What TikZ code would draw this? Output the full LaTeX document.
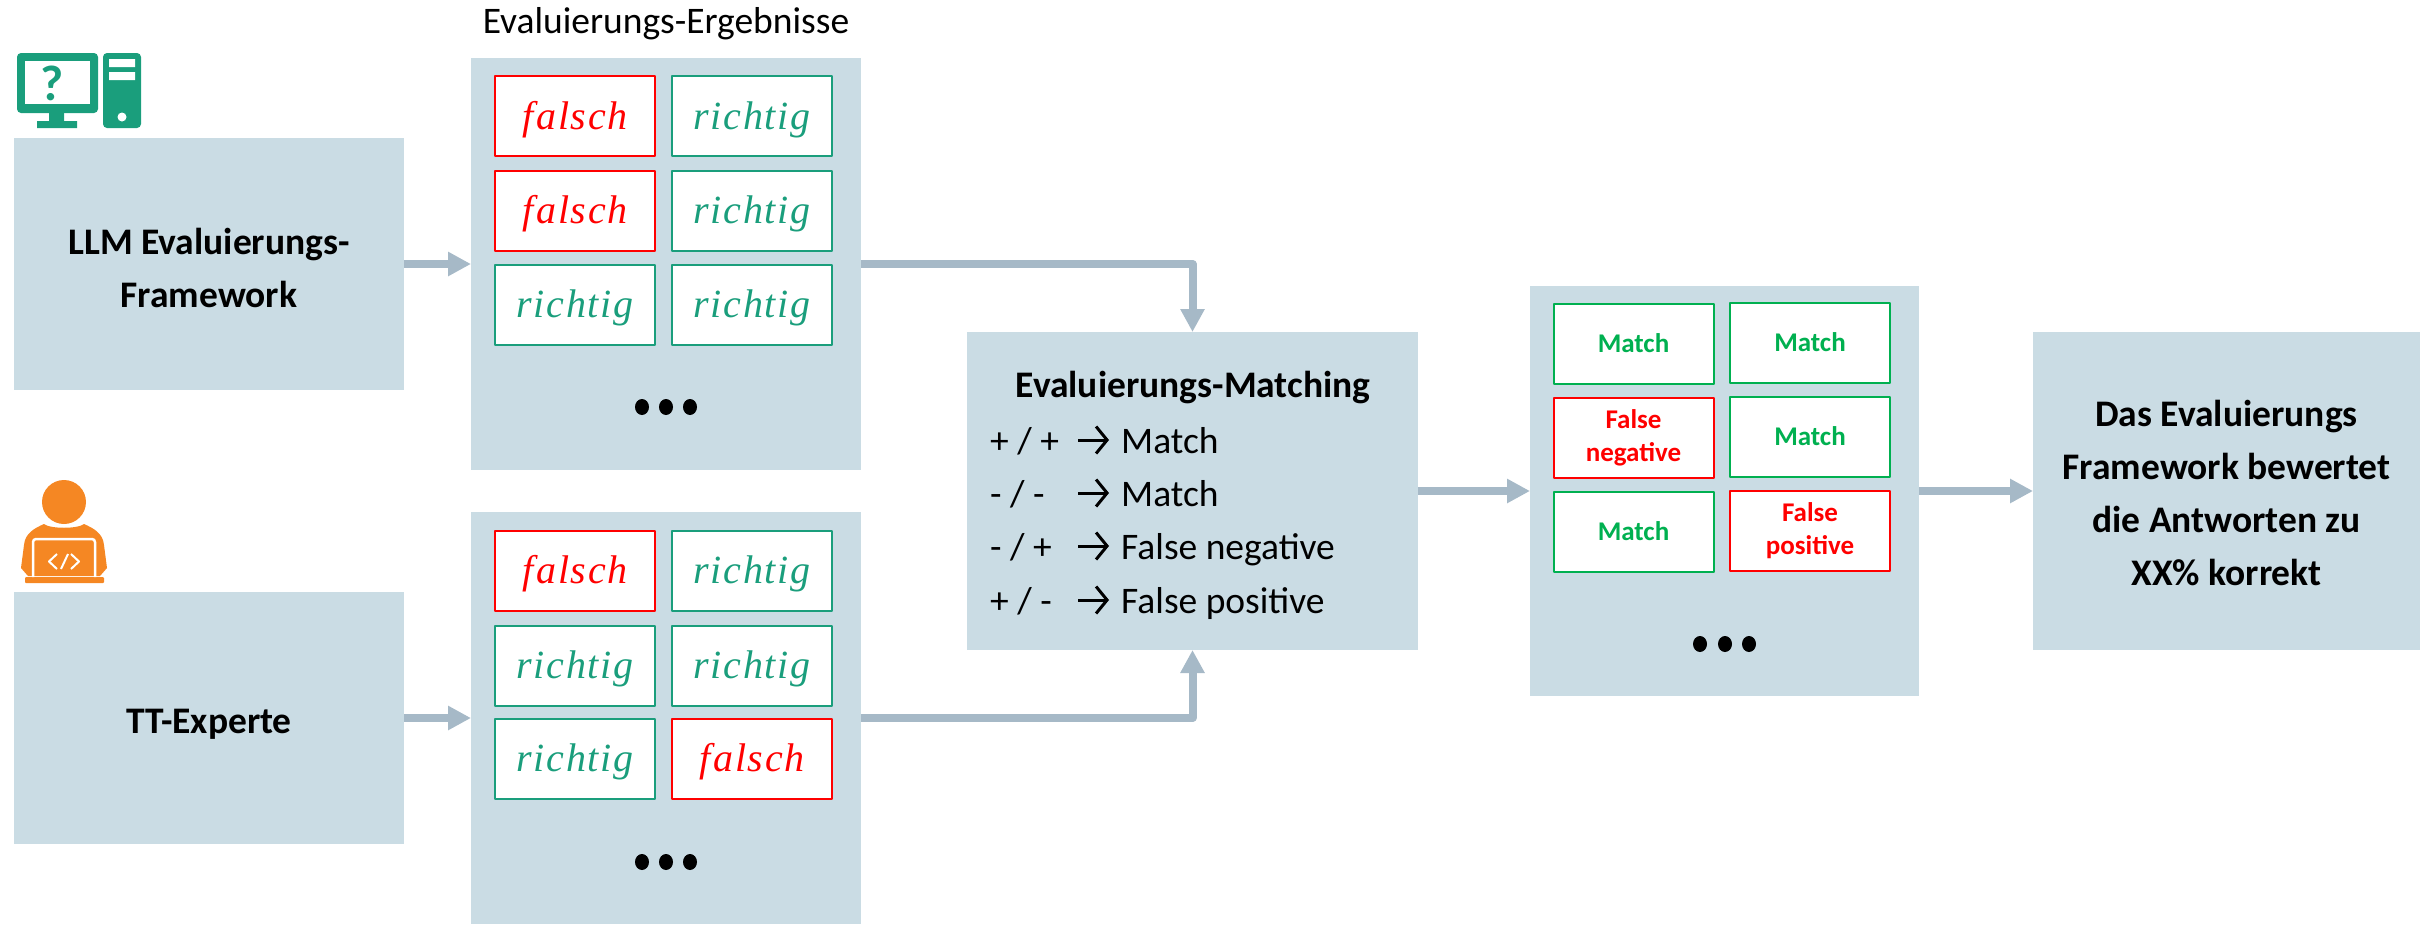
\documentclass[tikz,border=0pt]{standalone}
\usepackage{fontspec}
\setmainfont{Carlito}
\newfontfamily\mathitfont[LetterSpace=4.5]{Liberation Serif}
\usetikzlibrary{arrows.meta}
\definecolor{boxblue}{HTML}{CADCE4}
\definecolor{flowblue}{HTML}{A6B9C7}
\definecolor{teal}{HTML}{1A9E7C}
\definecolor{matchgreen}{HTML}{00B050}
\definecolor{personorange}{HTML}{F58723}
\tikzset{
	panel/.style={fill=boxblue,inner sep=0pt,outer sep=0pt,align=center,font=\fontsize{37.5}{53}\selectfont\bfseries},
	cell/.style={fill=white,draw,line width=2pt,inner sep=0pt,outer sep=0pt,minimum width=160pt,minimum height=80pt,align=center},
	okcell/.style={cell,draw=teal,text=teal,text height=32pt,text depth=6pt,font=\fontsize{40}{44}\selectfont\mathitfont\itshape},
	badcell/.style={cell,draw=red,text=red,text height=32pt,text depth=6pt,font=\fontsize{40}{44}\selectfont\mathitfont\itshape},
	hitcell/.style={cell,draw=matchgreen,text=matchgreen,font=\fontsize{27}{33}\selectfont\bfseries},
	misscell/.style={cell,draw=red,text=red,font=\fontsize{27}{33}\selectfont\bfseries},
	rule text/.style={anchor=base west,inner sep=0pt,font=\fontsize{37.5}{40}\selectfont},
	flow/.style={draw=flowblue,line width=8pt,-{Triangle[length=23pt,width=23pt]}},
	goes/.style={line width=3pt,-{Straight Barb[length=11pt,width=27pt,line width=3pt]}}
}
\begin{document}
\begin{tikzpicture}[x=1pt,y=-1pt,line join=round]
	\useasboundingbox (0,0) rectangle (2420,924);
	% main blocks
	\node[panel,minimum width=390pt,minimum height=252pt] (llm) at (209,264) {};
	\node[panel,minimum width=390pt,minimum height=252pt] (tt) at (209,718) {};
	\node[panel,minimum width=390pt,minimum height=412pt] (erg1) at (666,264) {};
	\node[panel,minimum width=390pt,minimum height=412pt] (erg2) at (666,718) {};
	\node[panel,minimum width=451pt,minimum height=318pt] (match) at (1192.5,491) {};
	\node[panel,minimum width=389pt,minimum height=410pt] (erg3) at (1724.5,491) {};
	\node[panel,minimum width=387pt,minimum height=318pt] (final) at (2226.5,491) {};
	\node[panel,fill=none] (llmtext) at (209,268) {LLM Evaluierungs-\\Framework};
	\node[panel,fill=none] (tttext) at (209,724) {TT-Experte};
	\node[panel,fill=none] (finaltext) at (2226.5,493) {Das Evaluierungs\\Framework bewertet\\die Antworten zu\\XX\% korrekt};
	\node[font=\fontsize{37.5}{40}\selectfont] (title) at (666,24) {Evaluierungs-Ergebnisse};
	% cells
	\foreach \n/\x/\y/\s/\t in {a/575/116/badcell/f\kern3pt alsch,b/752/116/okcell/richtig,
		c/575/210.5/badcell/f\kern3pt alsch,d/752/210.5/okcell/richtig,
		e/575/304.5/okcell/richtig,f/752/304.5/okcell/richtig,
		g/575/570.5/badcell/f\kern3pt alsch,h/752/570.5/okcell/richtig,
		i/575/665.5/okcell/richtig,j/752/665.5/okcell/richtig,
		k/575/758.5/okcell/richtig,l/752/758.5/badcell/f\kern3pt alsch}
		\node[\s] (cell\n) at (\x,\y) {\t};
	\foreach \n/\x/\y/\s/\t in {a/1633.5/343.5/hitcell/Match,b/1810/342.5/hitcell/Match,
		c/1633.5/437.5/misscell/False\\negative,d/1810/436.5/hitcell/Match,
		e/1633.5/531.5/hitcell/Match,f/1810/530.5/misscell/False\\positive}
		\node[\s] (hit\n) at (\x,\y) {\t};
	% dots
	\foreach \x in {642,666,690} {
		\fill (\x,407) ellipse (7pt and 8pt);
		\fill (\x,862) ellipse (7pt and 8pt);
	}
	\foreach \x in {1700,1725,1749}
		\fill (\x,644) ellipse (7pt and 8pt);
	% matching text
	\node[font=\fontsize{37.5}{40}\selectfont\bfseries] (mtitle) at (1193,388) {Evaluierungs-Matching};
	\foreach \n/\y/\a/\t in {a/453/{+ / +}/Match,b/506/{- / -}/Match,c/559/{- / +}/False negative,d/613/{+ / -}/False positive} {
		\node[rule text] (rule\n) at (990,\y) {\a};
		\coordinate (from\n) at (1078,\y-13);
		\coordinate (to\n) at (1109,\y-13);
		\draw[goes] (from\n) -- (to\n);
		\node[rule text] (res\n) at (1121,\y) {\t};
	}
	% connectors
	\draw[flow] (llm) -- (erg1);
	\draw[flow] (tt) -- (erg2);
	\draw[flow] (erg1.east) -| (match.north);
	\draw[flow] (erg2.east) -| (match.south);
	\draw[flow] (match) -- (erg3);
	\draw[flow] (erg3) -- (final);
	% computer icon
	\fill[teal,rounded corners=4pt] (17,53) rectangle (98,113);
	\fill[white] (25,61) rectangle (90,104);
	\fill[teal] (49,113) rectangle (64,121) (37,121) rectangle (77,128);
	\fill[teal,rounded corners=4pt] (103,53) rectangle (141,128);
	\fill[white] (109,59) rectangle (135,67) (109,72) rectangle (135,80);
	\fill[white] (122,117) circle (4.5pt);
	\node[text=teal,inner sep=0pt,font=\fontsize{50}{50}\selectfont\bfseries] (qmark) at (52,83) {?};
	% person icon
	\fill[personorange] (64,502) circle (22pt);
	\fill[personorange] (21,568) -- (24,545) .. controls (25,533) and (35,528) .. (44,524)
		.. controls (50,529) and (78,529) .. (84,524) .. controls (93,528) and (103,533) .. (104,545)
		-- (107,568) -- (100,576) -- (28,576) -- cycle;
	\fill[personorange,rounded corners=1pt] (25,577) rectangle (104,583);
	\draw[white,line width=2.5pt,rounded corners=3pt] (33,577) -- (33,539) -- (95,539) -- (95,577);
	\draw[white,line width=2pt] (57,554) -- (49,561.5) -- (57,569) (61,569) -- (68,554) (71,554) -- (79,561.5) -- (71,569);
\end{tikzpicture}
\end{document}
